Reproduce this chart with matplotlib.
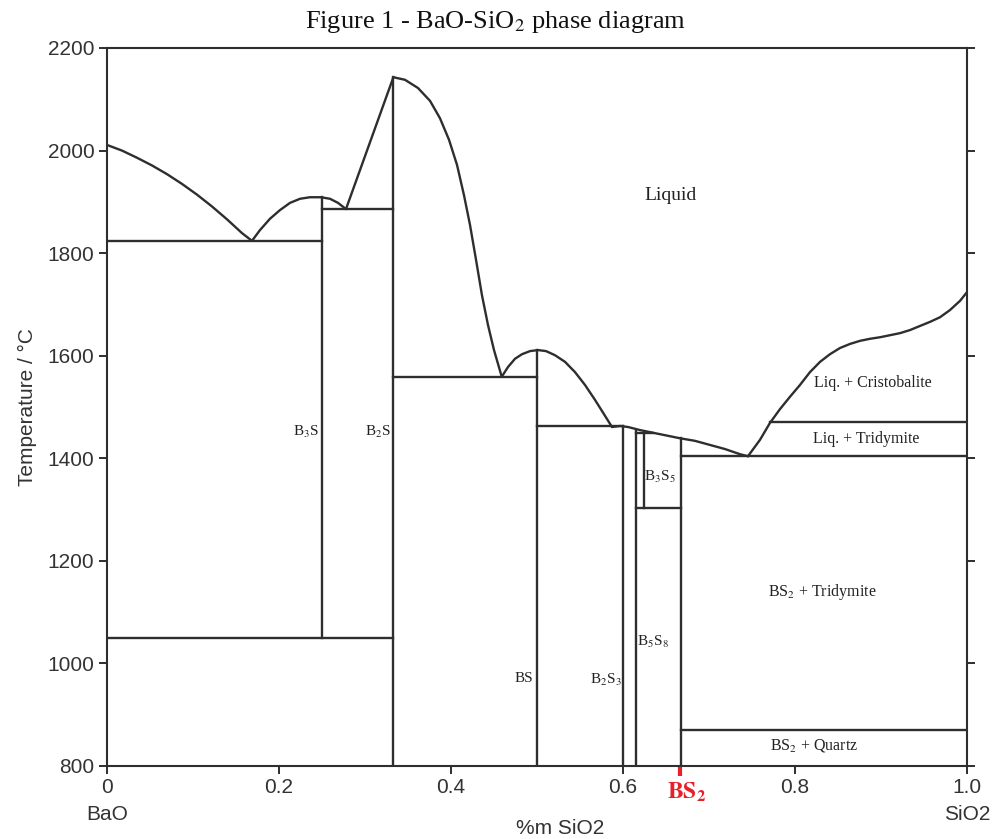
import matplotlib
matplotlib.use('Agg')
import matplotlib.pyplot as plt

plt.rcParams['mathtext.fontset'] = 'stix'
plt.rcParams['font.family'] = ['Liberation Sans', 'DejaVu Sans']

# liquidus pieces (x = mass fraction SiO2, T in degC)
liq1_x = [0.0, 0.0174, 0.0349, 0.0523, 0.0698, 0.0872, 0.1047, 0.1221, 0.1395, 0.157, 0.1686]
liq1_t = [2011, 2000, 1986, 1971, 1954, 1935, 1914, 1891, 1866, 1839, 1824]

liq2_x = [0.1686, 0.1779, 0.1895, 0.2012, 0.2128, 0.2244, 0.236, 0.2488, 0.2593, 0.2686, 0.2779]
liq2_t = [1824, 1845, 1867, 1884, 1898, 1906, 1909, 1909, 1906, 1898, 1886]

liq3_x = [0.2779, 0.333]
liq3_t = [1886, 2143]

liq4_x = [0.333, 0.3465, 0.3616, 0.3756, 0.3872, 0.3977, 0.407, 0.4151, 0.4221,
          0.4291, 0.436, 0.443, 0.45, 0.459]
liq4_t = [2143, 2138, 2122, 2097, 2063, 2021, 1972, 1913, 1855,
          1787, 1718, 1660, 1611, 1559]

liq5_x = [0.459, 0.4663, 0.4744, 0.4826, 0.4919, 0.5012, 0.5105, 0.5209, 0.5326,
          0.5442, 0.5558, 0.5674, 0.5779, 0.5872]
liq5_t = [1559, 1578, 1594, 1603, 1609, 1611, 1609, 1601, 1588,
          1568, 1543, 1514, 1486, 1461]

liq6_x = [0.5872, 0.5965, 0.6058, 0.6198, 0.6372, 0.6547, 0.6663, 0.6837, 0.7012,
          0.7186, 0.736, 0.7453]
liq6_t = [1461, 1463, 1461, 1455, 1449, 1443, 1439, 1434, 1426,
          1418, 1408, 1404]

liq7_x = [0.7453, 0.7593, 0.7709, 0.7826, 0.7942, 0.8058, 0.8174, 0.8291, 0.8407,
          0.8523, 0.864, 0.8756, 0.8872, 0.8988, 0.9105, 0.9221, 0.9337, 0.9453,
          0.957, 0.9686, 0.9802, 0.9919, 1.0]
liq7_t = [1404, 1436, 1469, 1496, 1520, 1543, 1568, 1588, 1603,
          1615, 1623, 1629, 1633, 1636, 1640, 1644, 1650, 1658,
          1666, 1675, 1689, 1707, 1724]

# horizontal (invariant) lines: temperature, x start, x end
h_t = [1824, 1886, 1050, 1559, 1462, 1450, 1303, 1404, 1471, 870]
h_x0 = [0.0, 0.25, 0.0, 0.333, 0.5, 0.615, 0.615, 0.667, 0.7709, 0.667]
h_x1 = [0.25, 0.333, 0.333, 0.5, 0.6, 0.635, 0.667, 1.0, 1.0, 1.0]

# vertical (compound) lines: x, T bottom, T top
v_x = [0.25, 0.333, 0.5, 0.6, 0.615, 0.625, 0.667]
v_t0 = [1050, 800, 800, 800, 800, 1303, 800]
v_t1 = [1909, 2143, 1611, 1462, 1456, 1450, 1439]

# region labels
lab_text = ['Liquid', 'Liq. + Cristobalite', 'Liq. + Tridymite', r'B$_3$S$_5$',
            r'BS$_2$ + Tridymite', r'B$_5$S$_8$', 'BS', r'B$_2$S$_3$',
            r'B$_3$S', r'B$_2$S', r'BS$_2$ + Quartz']
lab_x = [0.6547, 0.8907, 0.8826, 0.643, 0.8314, 0.635, 0.485, 0.580, 0.231, 0.315, 0.822]
lab_t = [1913, 1547, 1438, 1363, 1139, 1042, 970, 968, 1451, 1451, 839]
lab_size = [14, 11.5, 11.5, 11, 11.5, 11, 11, 11, 11, 11, 11.5]

x_ticks = [0, 0.2, 0.4, 0.6, 0.8, 1.0]
x_ticklabels = ['0', '0.2', '0.4', '0.6', '0.8', '1.0']
y_ticks = [800, 1000, 1200, 1400, 1600, 1800, 2000, 2200]

lc = '#2e2e2e'
lw = 1.7

fig = plt.figure(figsize=(9.97, 8.39), dpi=100)
ax = fig.add_axes([0.10732, 0.08701, 0.86259, 0.85578])

for xs, ts in [(liq1_x, liq1_t), (liq2_x, liq2_t), (liq3_x, liq3_t), (liq4_x, liq4_t),
               (liq5_x, liq5_t), (liq6_x, liq6_t), (liq7_x, liq7_t)]:
    ax.plot(xs, ts, color=lc, lw=lw, solid_capstyle='round', solid_joinstyle='round')

for t, x0, x1 in zip(h_t, h_x0, h_x1):
    ax.plot([x0, x1], [t, t], color=lc, lw=lw)

for x, t0, t1 in zip(v_x, v_t0, v_t1):
    ax.plot([x, x], [t0, t1], color=lc, lw=lw)

for s, x, t, fs in zip(lab_text, lab_x, lab_t, lab_size):
    ax.text(x, t, s, ha='center', va='center', fontsize=fs,
            family='Liberation Serif', color='#222222')

ax.set_xlim(0, 1.0)
ax.set_ylim(800, 2200)
ax.set_xticks(x_ticks)
ax.set_xticklabels(x_ticklabels)
ax.set_yticks(y_ticks)

for sp in ax.spines.values():
    sp.set_color(lc)
    sp.set_linewidth(1.5)

ax.tick_params(axis='both', direction='out', length=6, width=1.4, color=lc,
               labelsize=15, labelcolor='#333333', pad=3)
ax.tick_params(axis='y', right=True, labelright=False)

ax.set_ylabel('Temperature / \u00b0C', fontsize=15, color='#333333', labelpad=8)

trans = ax.get_xaxis_transform()
ax.text(0.0, -0.068, 'BaO', transform=trans, ha='center', va='center',
        fontsize=15, color='#333333')
ax.text(1.0, -0.068, 'SiO2', transform=trans, ha='center', va='center',
        fontsize=15, color='#333333')
ax.text(0.527, -0.087, '%m SiO2', transform=trans, ha='center', va='center',
        fontsize=15, color='#333333')

# red marker for BS2
ax.plot([2 / 3, 2 / 3], [0, -0.014], transform=trans, clip_on=False,
        color='#e8202a', lw=3, solid_capstyle='butt')
ax.text(0.674, -0.037, r'$\mathbf{BS_2}$', transform=trans, ha='center', va='center',
        fontsize=17, color='#e8202a')

fig.text(0.497, 1 - 22 / 839, r'Figure 1 - BaO-SiO$_2$ phase diagram', ha='center',
         va='center', fontsize=19, family='Liberation Serif', color='#111111')

fig.savefig('out.png', dpi=100)
